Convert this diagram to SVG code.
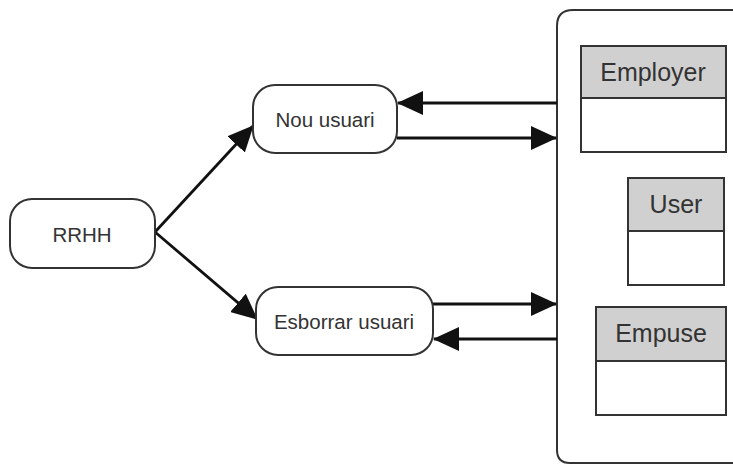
<svg xmlns="http://www.w3.org/2000/svg" width="733" height="465" viewBox="0 0 733 465">
<style>
.box{fill:#fff;stroke:#333;stroke-width:2}
.hdr{fill:#d0d0d0;stroke:#333;stroke-width:2}
.cell{fill:#fff;stroke:#333;stroke-width:2}
.t{font-family:"Liberation Sans",Arial,sans-serif;fill:#333;text-anchor:middle;dominant-baseline:central}
.s{font-size:20.5px}
.l{font-size:25px}
.c{stroke:#111;stroke-width:2.8;fill:none}
</style>
<defs>
<marker id="big" viewBox="0 0 26 24" refX="25" refY="12" markerWidth="26" markerHeight="24" orient="auto" markerUnits="userSpaceOnUse">
<path d="M0,0 L26,12 L0,24 z" fill="#111"/>
</marker>
</defs>
<rect width="733" height="465" fill="#fff"/>
<g id="container">
<path d="M740,10 L573,10 Q557,10 557,26 L557,450 Q557,463 570,463 L740,463" class="box"/>
</g>
<g id="connectors">
<line x1="155" y1="232" x2="253" y2="126" class="c" marker-end="url(#big)"/>
<line x1="155" y1="232" x2="257" y2="319" class="c" marker-end="url(#big)"/>
<line x1="557" y1="103" x2="398" y2="103" class="c" marker-end="url(#big)"/>
<line x1="397" y1="138" x2="556" y2="138" class="c" marker-end="url(#big)"/>
<line x1="433" y1="304" x2="556" y2="304" class="c" marker-end="url(#big)"/>
<line x1="557" y1="339" x2="434" y2="339" class="c" marker-end="url(#big)"/>
</g>
<g id="rrhh">
<rect x="10" y="199" width="145" height="69" rx="22" class="box"/>
<text x="82" y="234" class="t s">RRHH</text>
</g>
<g id="nou">
<rect x="253" y="85" width="144" height="68" rx="22" class="box"/>
<text x="325" y="119" class="t s">Nou usuari</text>
</g>
<g id="esborrar">
<rect x="256" y="287" width="177" height="68" rx="22" class="box"/>
<text x="344" y="321" class="t s">Esborrar usuari</text>
</g>
<g id="employer">
<rect x="581" y="46" width="145" height="52" class="hdr"/>
<rect x="581" y="98" width="145" height="54" class="cell"/>
<text x="653" y="72" class="t l">Employer</text>
</g>
<g id="user">
<rect x="628" y="178" width="96" height="53" class="hdr"/>
<rect x="628" y="231" width="96" height="54" class="cell"/>
<text x="676" y="204" class="t l">User</text>
</g>
<g id="empuse">
<rect x="596" y="307" width="130" height="54" class="hdr"/>
<rect x="596" y="361" width="130" height="54" class="cell"/>
<text x="661" y="333" class="t l">Empuse</text>
</g>
</svg>
